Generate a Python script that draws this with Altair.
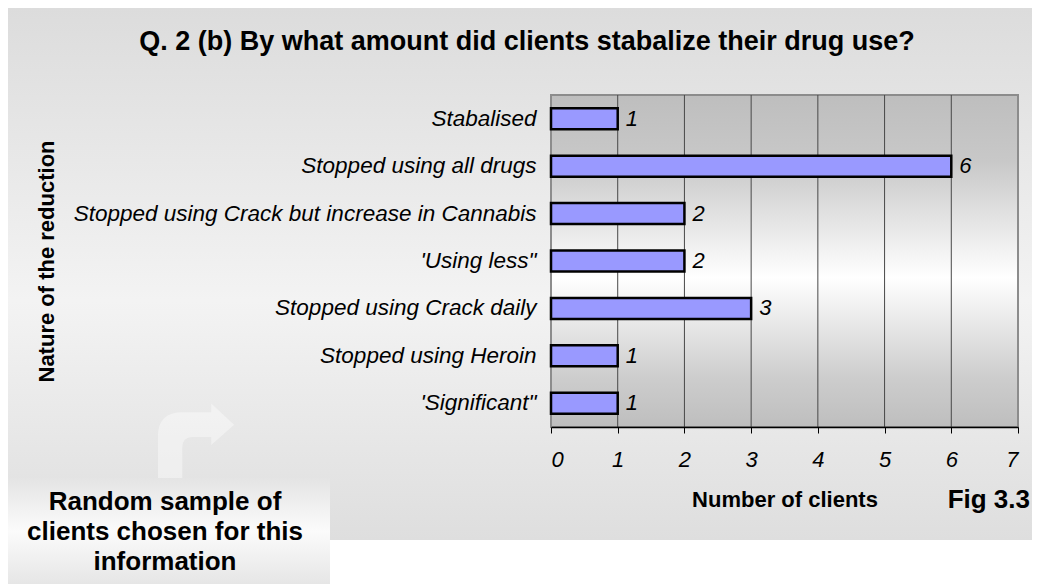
import altair as alt
import pandas as pd

# ---- data ----
categories = [
    "Stabalised",
    "Stopped using all drugs",
    "Stopped using Crack but increase in Cannabis",
    "'Using less\"",
    "Stopped using Crack daily",
    "Stopped using Heroin",
    "'Significant\"",
]
clients = [1, 6, 2, 2, 3, 1, 1]
x_ticks = [0, 1, 2, 3, 4, 5, 6, 7]
grid_values = [1, 2, 3, 4, 5, 6]

title_text = "Q. 2 (b) By what amount did clients stabalize their drug use?"
x_title = "Number of clients"
y_title = "Nature of the reduction"
fig_label = "Fig 3.3"
note_lines = ["Random sample of", "clients chosen for this", "information"]

# ---- layout ----
W, H = 467, 332
FONT = "Liberation Sans"

df = pd.DataFrame({"reduction": categories, "clients": clients})
grid_df = pd.DataFrame({"clients": grid_values})
one = pd.DataFrame({"k": [0]})


def lin(stops):
    return {
        "gradient": "linear", "x1": 0, "y1": 0, "x2": 0, "y2": 1,
        "stops": [{"offset": o, "color": c} for o, c in stops],
    }


xscale = alt.Scale(domain=[0, 7], nice=False, zero=True)
yscale = alt.Scale(paddingInner=0, paddingOuter=0)

x_axis = alt.Axis(
    values=x_ticks, title=x_title, grid=False, zindex=1,
    labelFont=FONT, labelFontSize=22, labelFontStyle="italic", labelColor="black",
    labelPadding=16, tickSize=6, tickColor="black", domainColor="black", domainWidth=1.5,
    titleFont=FONT, titleFontSize=22, titleFontWeight="bold", titleColor="black",
    titleY=79, titleBaseline="alphabetic",
)
y_axis = alt.Axis(
    title=y_title, ticks=False, domain=False, grid=False, zindex=1,
    labelFont=FONT, labelFontSize=22.5, labelFontStyle="italic", labelColor="black",
    labelPadding=15, labelLimit=700,
    titleFont=FONT, titleFontSize=22, titleFontWeight="bold", titleColor="black",
    titleX=-505, titleY=H / 2, titleBaseline="middle",
)

panel = alt.Chart(one).mark_rect(
    fill=lin([(0, "#dcdcdc"), (0.55, "#f3f3f3"), (1, "#dedede")]), strokeWidth=0
).encode(x=alt.value(-543), x2=alt.value(481), y=alt.value(-87), y2=alt.value(445))

box = alt.Chart(one).mark_rect(
    fill=lin([(0, "#e4e4e4"), (0.5, "#fbfbfb"), (1, "#e6e6e6")]), strokeWidth=0
).encode(x=alt.value(-543), x2=alt.value(-221), y=alt.value(383), y2=alt.value(489))

arrow_path = ("M -1 1 L -1 -0.1 Q -1 -0.73 -0.35 -0.73 L 0.4 -0.73 L 0.4 -0.96 "
              "L 1 -0.4 L 0.4 0.13 L 0.4 -0.08 L -0.1 -0.08 Q -0.36 -0.08 -0.36 0.2 "
              "L -0.36 1 Z")
arrow = alt.Chart(one).mark_point(
    shape=arrow_path, filled=True, fill="white", fillOpacity=0.4, strokeWidth=0, size=5800
).encode(x=alt.value(-355), y=alt.value(345))

plotbg = alt.Chart(one).mark_rect(
    fill=lin([(0, "#bebebe"), (0.2, "#c8c8c8"), (0.55, "#ffffff"), (0.85, "#cdcdcd"), (1, "#bebebe")]),
    stroke="#8c8c8c", strokeWidth=2,
).encode(x=alt.value(0), x2=alt.value(W), y=alt.value(0), y2=alt.value(H))

grid = alt.Chart(grid_df).mark_rule(color="#484848", strokeWidth=1).encode(
    x=alt.X("clients:Q", scale=xscale, axis=x_axis)
)

bars = alt.Chart(df).mark_bar(
    size=21, fill="#9999ff", stroke="black", strokeWidth=2.5
).encode(
    x=alt.X("clients:Q", scale=xscale, axis=x_axis),
    y=alt.Y("reduction:N", sort=None, scale=yscale, axis=y_axis),
)

labels = alt.Chart(df).mark_text(
    align="left", baseline="middle", dx=8, font=FONT, fontSize=22, fontStyle="italic", color="black"
).encode(
    x=alt.X("clients:Q", scale=xscale, axis=x_axis),
    y=alt.Y("reduction:N", sort=None, scale=yscale, axis=y_axis),
    text="clients:Q",
)

title = alt.Chart(one).mark_text(
    text=title_text, font=FONT, fontSize=27, fontWeight="bold", color="black",
    align="center", baseline="alphabetic",
).encode(x=alt.value(-24), y=alt.value(-45))

fig = alt.Chart(one).mark_text(
    text=fig_label, font=FONT, fontSize=26, fontWeight="bold", color="black",
    align="right", baseline="middle",
).encode(x=alt.value(479), y=alt.value(405))

note = alt.Chart(one).mark_text(
    text=note_lines, font=FONT, fontSize=26, fontWeight="bold", color="black",
    align="center", baseline="middle", lineHeight=30,
).encode(x=alt.value(-386), y=alt.value(407))

chart = alt.layer(
    panel, box, arrow, plotbg, grid, bars, labels, title, fig, note
).properties(
    width=W, height=H,
    autosize=alt.AutoSizeParams(type="none"),
    padding={"left": 543, "top": 87, "right": 14, "bottom": 157},
    background="white",
).configure_view(stroke="transparent")

chart.save("out.html", embed_options={"renderer": "svg", "actions": False})
